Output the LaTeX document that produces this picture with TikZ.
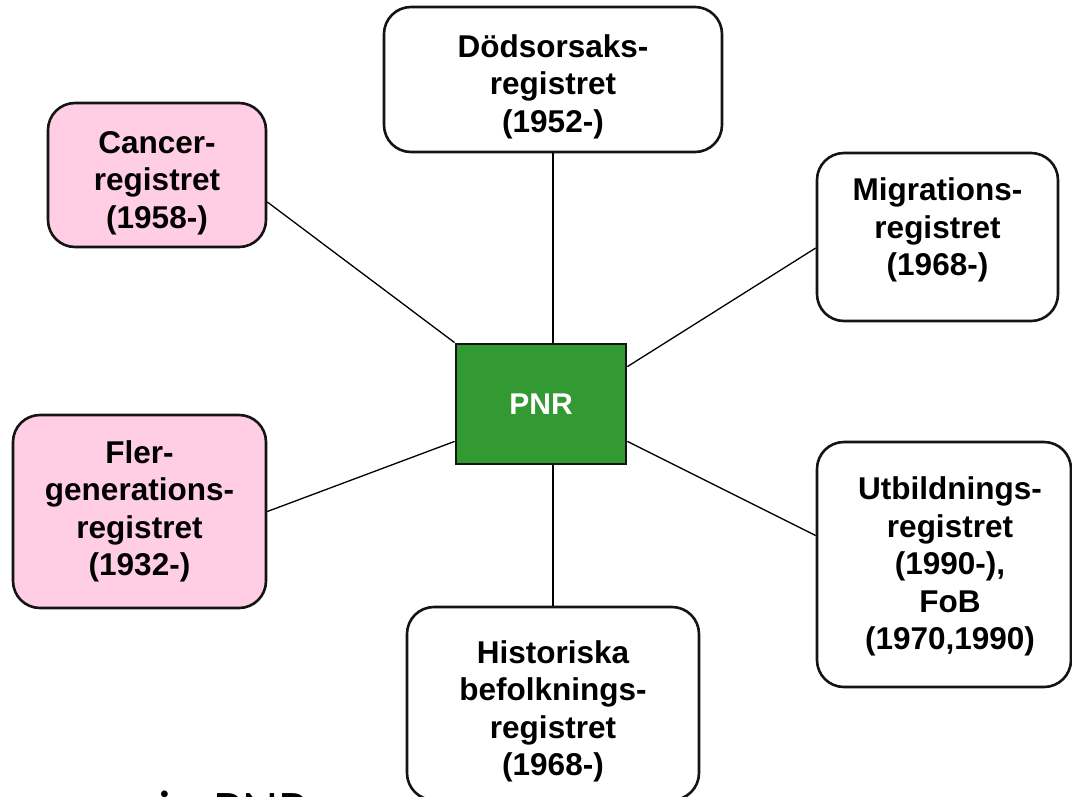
\documentclass[tikz,border=0pt]{standalone}
\usepackage{fontspec}
\setmainfont{Liberation Sans}
\newfontfamily\calibfont{Carlito}
\definecolor{pnrgreen}{RGB}{51,153,51}
\definecolor{regpink}{RGB}{255,206,228}
\definecolor{edgegray}{RGB}{20,20,20}
\tikzset{
  boxtext/.style={align=center, inner sep=0pt, font=\bfseries\fontsize{31.5}{37.5}\selectfont},
  regbox/.style={draw=edgegray, line width=2.6pt, rounded corners=27pt, fill=white, inner sep=0pt},
  pinkbox/.style={regbox, fill=regpink},
  pnrbox/.style={draw=edgegray, line width=2.8pt, fill=pnrgreen, text=white,
    inner sep=0pt, font=\bfseries\fontsize{30}{36}\selectfont},
  link/.style={draw=black, line width=1.3pt},
  titletext/.style={font=\calibfont\fontsize{56}{62}\selectfont, inner sep=0pt}
}
\begin{document}
\begin{tikzpicture}[x=1pt, y=-1pt]
\useasboundingbox (0,0) rectangle (1072,796);

\node[regbox, minimum width=338pt, minimum height=145pt,
  label={[boxtext, yshift=-7pt]center:{Dödsorsaks-\\registret\\(1952-)}}] (dod) at (553,79.5) {};
\node[pinkbox, minimum width=218pt, minimum height=144pt,
  label={[boxtext, yshift=-8pt]center:{Cancer-\\registret\\(1958-)}}] (can) at (157,175) {};
\node[regbox, minimum width=241pt, minimum height=168pt,
  label={[boxtext, yshift=7pt]center:{Migrations-\\registret\\(1968-)}}] (mig) at (937.5,237) {};
\node[pnrbox, minimum width=170pt, minimum height=120pt] (pnr) at (541,404) {PNR};
\node[pinkbox, minimum width=253pt, minimum height=193pt,
  label={[boxtext]center:{Fler-\\generations-\\registret\\(1932-)}}] (fler) at (139.5,511.5) {};
\node[regbox, minimum width=292pt, minimum height=193pt,
  label={[boxtext, yshift=-8pt]center:{Historiska\\befolknings-\\registret\\(1968-)}}] (hist) at (553,703.5) {};
\node[regbox, minimum width=254pt, minimum height=245pt,
  label={[boxtext, xshift=6pt, yshift=-2pt]center:{Utbildnings-\\registret\\(1990-),\\FoB\\(1970,1990)}}] (utb) at (944,564.5) {};

\path[link] (dod.south) -- (dod.south |- pnr.north);
\path[link] (hist.north) -- (hist.north |- pnr.south);
\path[link] ([yshift=-27pt]can.east) -- (pnr.north west);
\path[link] ([yshift=-11pt]mig.west) -- ([yshift=-24pt]pnr.north east);
\path[link] (fler.east) -- ([yshift=24pt]pnr.south west);
\path[link] ([yshift=29pt]utb.west) -- ([yshift=24pt]pnr.south east);

\node[titletext, anchor=base west] (title) at (158,829) {in PNR};
\end{tikzpicture}
\end{document}
